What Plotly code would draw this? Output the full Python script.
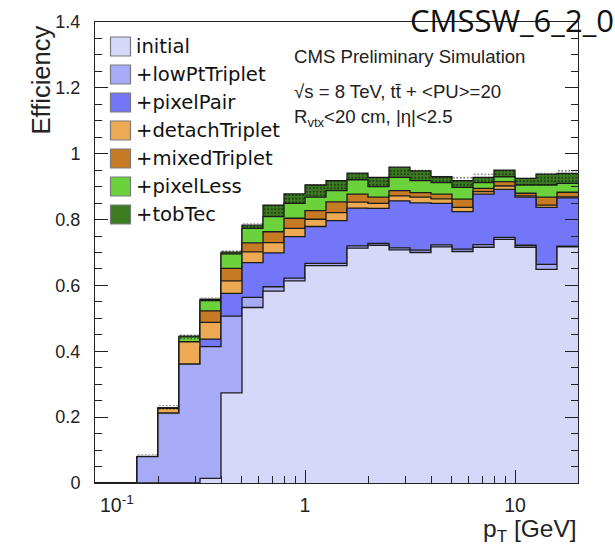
import plotly.graph_objects as go

# Variable-width pT bins (0.1 decade each, 0.1 -> ~20 GeV)
bin_edges = [0.1, 0.1259, 0.1585, 0.1995, 0.2512, 0.3162, 0.3981, 0.5012,
             0.631, 0.7943, 1.0, 1.259, 1.585, 1.995, 2.512, 3.162, 3.981,
             5.012, 6.31, 7.943, 10.0, 12.59, 15.85, 19.95]

iterations = ["initial", "+lowPtTriplet", "+pixelPair", "+detachTriplet",
              "+mixedTriplet", "+pixelLess", "+tobTec"]

# Cumulative efficiency after each tracking iteration
eff_initial = [0, 0, 0, 0, 0, 0.014, 0.274, 0.533, 0.583, 0.614, 0.660, 0.660,
               0.713, 0.722, 0.708, 0.700, 0.717, 0.703, 0.716, 0.740, 0.716, 0.649, 0.717]
eff_lowpt = [0, 0, 0.080, 0.212, 0.361, 0.414, 0.507, 0.564, 0.596, 0.622, 0.667, 0.667,
             0.720, 0.728, 0.714, 0.707, 0.723, 0.710, 0.724, 0.746, 0.722, 0.664, 0.719]
eff_pixelpair = [0, 0, 0.080, 0.212, 0.361, 0.437, 0.576, 0.669, 0.699, 0.748, 0.779, 0.797,
                 0.835, 0.834, 0.857, 0.851, 0.849, 0.824, 0.877, 0.892, 0.868, 0.837, 0.866]
eff_detach = [0, 0, 0.080, 0.227, 0.429, 0.488, 0.614, 0.702, 0.730, 0.773, 0.801, 0.821,
              0.853, 0.849, 0.872, 0.868, 0.863, 0.837, 0.885, 0.902, 0.872, 0.844, 0.869]
eff_mixed = [0, 0, 0.080, 0.227, 0.429, 0.523, 0.652, 0.729, 0.763, 0.804, 0.827, 0.854,
             0.877, 0.868, 0.888, 0.882, 0.877, 0.862, 0.895, 0.915, 0.880, 0.868, 0.883]
eff_pixelless = [0, 0, 0.080, 0.227, 0.444, 0.554, 0.696, 0.773, 0.809, 0.849, 0.868, 0.888,
                 0.921, 0.900, 0.928, 0.918, 0.912, 0.898, 0.912, 0.930, 0.905, 0.905, 0.910]
eff_tobtec = [0, 0, 0.081, 0.228, 0.446, 0.558, 0.701, 0.783, 0.844, 0.878, 0.905, 0.918,
              0.941, 0.928, 0.959, 0.948, 0.930, 0.918, 0.928, 0.950, 0.925, 0.938, 0.940]

# Dotted uncertainty band around the total
band_lo = [0, 0, 0.080, 0.222, 0.436, 0.548, 0.694, 0.773, 0.809, 0.849, 0.868, 0.888,
           0.921, 0.900, 0.928, 0.918, 0.912, 0.898, 0.912, 0.930, 0.905, 0.905, 0.910]
band_hi = [0, 0, 0.087, 0.237, 0.452, 0.564, 0.708, 0.789, 0.846, 0.880, 0.907, 0.920,
           0.943, 0.930, 0.960, 0.954, 0.935, 0.932, 0.940, 0.952, 0.927, 0.945, 0.953]

series = [eff_initial, eff_lowpt, eff_pixelpair, eff_detach, eff_mixed, eff_pixelless, eff_tobtec]
colors = ["#d5d8f9", "#a7abf7", "#7376f6", "#eeaa52", "#c67a24", "#6bd23c", "#3d7b22"]

OUTLINE = "#1c1c1c"
W, H = 615, 545
L, R, T, B = 95, 578, 22, 483


def px(x):
    return (x - L) / (R - L)


def py(y):
    return (B - y) / (B - T)


def step(vals):
    return list(bin_edges), list(vals) + [vals[-1]]


fig = go.Figure()

# Cumulative histograms drawn from the outermost to the innermost
for name, vals, col in reversed(list(zip(iterations, series, colors))):
    xs, ys = step(vals)
    fig.add_trace(go.Scatter(
        x=xs, y=ys, name=name, mode="lines", line_shape="hv",
        line=dict(color=OUTLINE, width=1.3), fill="tozeroy", fillcolor=col,
        showlegend=False, hoverinfo="skip"))

xs, ys = step(band_lo)
fig.add_trace(go.Scatter(x=xs, y=ys, mode="lines", line_shape="hv",
                         line=dict(width=0), showlegend=False, hoverinfo="skip"))
xs, ys = step(band_hi)
fig.add_trace(go.Scatter(
    x=xs, y=ys, mode="lines", line_shape="hv", line=dict(width=0),
    fill="tonexty", fillcolor="rgba(0,0,0,0)",
    fillpattern=dict(shape=".", fgcolor="black", bgcolor="rgba(0,0,0,0)",
                     size=3.5, solidity=0.25, fillmode="overlay"),
    showlegend=False, hoverinfo="skip"))

fig.update_xaxes(
    type="log", range=[-1, 1.3], showgrid=False, zeroline=False,
    showline=True, linecolor="#222", linewidth=1, mirror=True,
    ticks="inside", ticklen=13, tickcolor="#222",
    tickvals=[0.1, 1, 10], ticktext=["", "1", "10"],
    tickfont=dict(family="Liberation Sans", size=19.5, color="#222"),
    ticklabelstandoff=5,
    minor=dict(ticks="inside", ticklen=7, tickcolor="#222",
               tickvals=[0.2, 0.3, 0.4, 0.5, 0.6, 0.7, 0.8, 0.9,
                         2, 3, 4, 5, 6, 7, 8, 9], showgrid=False),
)
fig.update_yaxes(
    range=[0, 1.4], showgrid=False, zeroline=False,
    showline=True, linecolor="#222", linewidth=1, mirror="ticks",
    ticks="inside", ticklen=13, tickcolor="#222",
    tickvals=[0, 0.2, 0.4, 0.6, 0.8, 1.0, 1.2, 1.4],
    ticktext=["0", "0.2", "0.4", "0.6", "0.8", "1", "1.2", "1.4"],
    tickfont=dict(family="Liberation Sans", size=18, color="#222"),
    ticklabelstandoff=10,
    minor=dict(ticks="inside", ticklen=7, tickcolor="#222", dtick=0.05, showgrid=False),
)

annotations = []
shapes = []

# Legend
LEG_FONT = dict(family="DejaVu Sans", size=19.6, color="#111")
for i, (name, col) in enumerate(zip(iterations, colors)):
    yc = 46.5 + 28.0 * i
    shapes.append(dict(type="rect", xref="paper", yref="paper",
                       x0=px(110.5), x1=px(130.5), y0=py(yc + 9.5), y1=py(yc - 9.5),
                       fillcolor=col, line=dict(color="#7a7a7a", width=1.2)))
    annotations.append(dict(text=name, xref="paper", yref="paper", x=px(134), y=py(yc),
                            xanchor="left", yanchor="middle", showarrow=False, font=LEG_FONT))

LABEL_FONT = dict(family="Liberation Sans", size=18.6, color="#222")
for text, yc in [("CMS Preliminary Simulation", 56),
                 ("\u221as = 8 TeV, tt\u0304 + &lt;PU&gt;=20", 92),
                 ("R<sub>vtx</sub>&lt;20 cm, |\u03b7|&lt;2.5", 118)]:
    annotations.append(dict(text=text, xref="paper", yref="paper", x=px(292), y=py(yc),
                            xanchor="left", yanchor="middle", showarrow=False,
                            font=LABEL_FONT))

annotations += [
    # first decade label of the log axis
    dict(text="10<sup>-1</sup>", xref="x", yref="paper", x=-0.988, y=py(490),
         xanchor="left", yanchor="top", showarrow=False,
         font=dict(family="Liberation Sans", size=19.5, color="#222")),
    dict(text="Efficiency", xref="paper", yref="paper", x=px(40), y=py(24),
         xanchor="center", yanchor="top", textangle=-90, showarrow=False,
         font=dict(family="Liberation Sans", size=25.5, color="#222")),
    dict(text="p<sub>T</sub> [GeV]", xref="paper", yref="paper", x=px(579), y=py(530),
         xanchor="right", yanchor="middle", showarrow=False,
         font=dict(family="Liberation Sans", size=24.5, color="#222")),
    dict(text="CMSSW_6_2_0", xref="paper", yref="paper", x=px(408), y=py(20),
         xanchor="left", yanchor="middle", showarrow=False,
         font=dict(family="Open Sans", size=31, color="#111")),
]

fig.update_layout(
    width=W, height=H,
    margin=dict(l=L, r=W - R, t=T, b=H - B),
    paper_bgcolor="white", plot_bgcolor="white",
    annotations=annotations, shapes=shapes,
    showlegend=False,
)

fig.write_html("out.html")
